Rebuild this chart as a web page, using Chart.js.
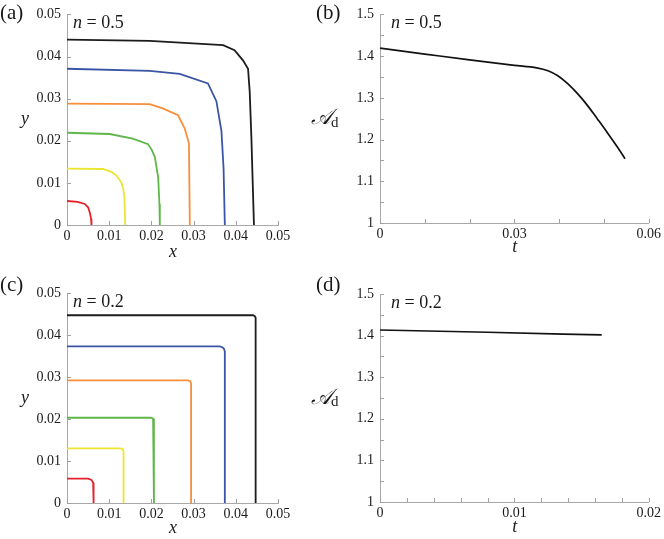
<!DOCTYPE html>
<html>
<head>
<meta charset="utf-8">
<script src="https://cdn.jsdelivr.net/npm/chart.js@4.4.1/dist/chart.umd.min.js"></script>
<style>
  body { margin: 0; background: #fff; }
  .panel { position: absolute; }
</style>
</head>
<body>
<canvas id="pa" class="panel" width="300" height="270" style="left:0;top:0"></canvas>
<canvas id="pb" class="panel" width="364" height="270" style="left:300px;top:0"></canvas>
<canvas id="pc" class="panel" width="300" height="269" style="left:0;top:270px"></canvas>
<canvas id="pd" class="panel" width="364" height="269" style="left:300px;top:270px"></canvas>
<script>
'use strict';

// (a) contours for n = 0.5, [x, y] pairs
var redA    = [[0,0.0057],[0.0025,0.0055],[0.0042,0.0050],[0.0050,0.0042],[0.0054,0.0030],[0.0057,0.0015],[0.0058,0]];
var yellowA = [[0,0.0134],[0.0085,0.0133],[0.0105,0.0126],[0.0117,0.0118],[0.0128,0.0102],[0.0133,0.0088],[0.0136,0.0067],[0.0138,0]];
var greenA  = [[0,0.0219],[0.0101,0.0216],[0.0156,0.0205],[0.0192,0.0192],[0.0201,0.0178],[0.0208,0.0162],[0.0216,0.0114],[0.0219,0.0050],[0.0220,0]];
var orangeA = [[0,0.0288],[0.0196,0.0287],[0.0227,0.0277],[0.0263,0.0261],[0.0279,0.0229],[0.0289,0.0194],[0.0291,0]];
var blueA   = [[0,0.0371],[0.0196,0.0366],[0.0267,0.0359],[0.0334,0.0336],[0.0354,0.0294],[0.0366,0.0223],[0.0371,0.0134],[0.0374,0]];
var blackA  = [[0,0.0440],[0.0196,0.0437],[0.0370,0.0427],[0.0397,0.0415],[0.0417,0.0391],[0.0429,0.0371],[0.0433,0.0316],[0.0437,0.0205],[0.0443,0]];

// (c) contours for n = 0.2
var redC    = [[0,0.0058],[0.0050,0.0058],[0.0058,0.0055],[0.0062,0.0048],[0.0063,0.0040],[0.0063,0]];
var yellowC = [[0,0.0130],[0.0127,0.0130],[0.0132,0.0128],[0.0134,0.0123],[0.0134,0]];
var greenC  = [[0,0.0203],[0.0199,0.0203],[0.0204,0.0201],[0.0206,0.0196],[0.0206,0]];
var orangeC = [[0,0.0292],[0.0287,0.0292],[0.0292,0.0290],[0.0294,0.0285],[0.0294,0]];
var blueC   = [[0,0.0373],[0.0362,0.0373],[0.0368,0.0371],[0.0372,0.0367],[0.0374,0.0361],[0.0374,0]];
var blackC  = [[0,0.0447],[0.0441,0.0447],[0.0445,0.0445],[0.0447,0.0441],[0.0447,0]];

// (b) and (d) A_d against t
var tB = [0, 0.01, 0.02, 0.03, 0.035, 0.0375, 0.0397, 0.0419, 0.0441, 0.0463, 0.0485, 0.0508, 0.053, 0.0547];
var aB = [1.419, 1.405, 1.391, 1.378, 1.372, 1.365, 1.353, 1.334, 1.310, 1.282, 1.250, 1.216, 1.182, 1.154];
var tD = [0, 0.008, 0.0165];
var aD = [1.4135, 1.408, 1.4016];

// tick labels
var xyTicks = [0, 0.01, 0.02, 0.03, 0.04, 0.05];
var xyLabels = ['0', '0.01', '0.02', '0.03', '0.04', '0.05'];
var adTicks = [1, 1.1, 1.2, 1.3, 1.4, 1.5];
var adLabels = ['1', '1.1', '1.2', '1.3', '1.4', '1.5'];
var tTicksB = [0, 0.03, 0.06];
var tLabelsB = ['0', '0.03', '0.06'];
var tTicksD = [0, 0.01, 0.02];
var tLabelsD = ['0', '0.01', '0.02'];

var contourColors = ['#e3222b', '#ece632', '#5fb74a', '#f68e3b', '#3a55a6', '#1c1c1c'];

var SERIF = "'Liberation Serif', 'Times New Roman', Times, serif";

function pairs(arr) {
    return arr.map(function(p) { return { x: p[0], y: p[1] }; });
}
function zip(xs, ys) {
    return xs.map(function(x, i) { return { x: x, y: ys[i] }; });
}
function labelFor(values, labels) {
    return function(v) {
        for (var i = 0; i < values.length; i++) {
            if (Math.abs(values[i] - v) < 1e-9) return labels[i];
        }
        return '';
    };
}

var inwardTicks = {
    id: 'inwardTicks',
    afterDatasetsDraw: function(chart) {
        var ctx = chart.ctx;
        var area = chart.chartArea;
        ctx.save();
        ctx.strokeStyle = '#a0a0a0';
        ctx.lineWidth = 1;
        ['x', 'y'].forEach(function(id) {
            var s = chart.scales[id];
            s.ticks.forEach(function(t) {
                var p = Math.round(s.getPixelForValue(t.value)) + 0.5;
                ctx.beginPath();
                if (id === 'x') {
                    ctx.moveTo(p, area.bottom);
                    ctx.lineTo(p, area.bottom - 4);
                } else {
                    ctx.moveTo(area.left, p);
                    ctx.lineTo(area.left + 4, p);
                }
                ctx.stroke();
            });
        });
        ctx.restore();
    }
};

var panelText = {
    id: 'panelText',
    afterDraw: function(chart, args, o) {
        var ctx = chart.ctx;
        var a = chart.chartArea;
        ctx.save();
        ctx.fillStyle = '#1a1a1a';
        ctx.textBaseline = 'middle';

        // panel tag
        ctx.font = '21px ' + SERIF;
        ctx.textAlign = 'left';
        ctx.fillText(o.tag, o.tagX, o.tagY);

        // n = value
        var nx = a.left + o.nDx;
        var ny = a.top + 9;
        ctx.font = 'italic 18px ' + SERIF;
        ctx.fillText('n', nx, ny);
        nx += ctx.measureText('n').width;
        ctx.font = '18px ' + SERIF;
        ctx.fillText(' = ' + o.n, nx, ny);

        // x axis title
        ctx.font = 'italic 18px ' + SERIF;
        ctx.textAlign = 'center';
        ctx.fillText(o.xTitle, (a.left + a.right) / 2 + 0.5, a.bottom + o.xTitleDy);

        // y axis title
        var my = (a.top + a.bottom) / 2;
        if (o.yTitle === 'A') {
            ctx.font = 'italic 22px ' + SERIF;
            ctx.textAlign = 'left';
            var ax = a.left + o.yTitleDx;
            ctx.fillText('\u{1D49C}', ax, my);
            var w = ctx.measureText('\u{1D49C}').width;
            ctx.font = '15px ' + SERIF;
            ctx.fillText('d', ax + w - 1, my + 4);
        } else {
            ctx.fillText(o.yTitle, a.left + o.yTitleDx, my);
        }
        ctx.restore();
    }
};

function makeChart(id, datasets, sc, txt) {
    var ctx = document.getElementById(id).getContext('2d');
    var tickFont = { family: SERIF, size: 14 };
    return new Chart(ctx, {
        type: 'scatter',
        data: { datasets: datasets },
        options: {
            responsive: false,
            animation: false,
            events: [],
            layout: { padding: { top: sc.padTop, right: sc.padRight, left: 0, bottom: 0 } },
            plugins: {
                legend: { display: false },
                tooltip: { enabled: false },
                panelText: txt
            },
            elements: { point: { radius: 0 } },
            scales: {
                x: {
                    type: 'linear',
                    min: sc.xMin, max: sc.xMax,
                    grid: { display: false, drawTicks: false },
                    border: { display: true, color: '#a8a8a8', width: 1 },
                    ticks: {
                        stepSize: sc.xStep,
                        autoSkip: false,
                        maxRotation: 0,
                        padding: 3,
                        color: '#1a1a1a',
                        font: tickFont,
                        callback: labelFor(sc.xTicks, sc.xLabels)
                    },
                    afterFit: function(s) { s.height = sc.xH; }
                },
                y: {
                    type: 'linear',
                    min: sc.yMin, max: sc.yMax,
                    grid: { display: false, drawTicks: false },
                    border: { display: true, color: '#a8a8a8', width: 1 },
                    ticks: {
                        stepSize: sc.yStep,
                        autoSkip: false,
                        padding: 6,
                        color: '#1a1a1a',
                        font: tickFont,
                        callback: labelFor(sc.yTicks, sc.yLabels)
                    },
                    afterFit: function(s) { s.width = sc.yW; }
                }
            }
        },
        plugins: [inwardTicks, panelText]
    });
}

function contourSets(curves) {
    return curves.map(function(c, i) {
        return {
            data: pairs(c),
            showLine: true,
            borderColor: contourColors[i],
            borderWidth: 1.8,
            tension: 0,
            fill: false
        };
    });
}

function lineSet(xs, ys) {
    return [{
        data: zip(xs, ys),
        showLine: true,
        borderColor: '#111',
        borderWidth: 1.7,
        cubicInterpolationMode: 'monotone',
        fill: false
    }];
}

makeChart('pa', contourSets([redA, yellowA, greenA, orangeA, blueA, blackA]), {
    padTop: 14, padRight: 22, xH: 45, yW: 67,
    xMin: 0, xMax: 0.05, xStep: 0.01, xTicks: xyTicks, xLabels: xyLabels,
    yMin: 0, yMax: 0.05, yStep: 0.01, yTicks: xyTicks, yLabels: xyLabels
}, { tag: '(a)', tagX: 0, tagY: 13, n: '0.5', nDx: 6, xTitle: 'x', xTitleDy: 27, yTitle: 'y', yTitleDx: -42 });

makeChart('pb', lineSet(tB, aB), {
    padTop: 14, padRight: 13, xH: 47, yW: 80,
    xMin: 0, xMax: 0.06, xStep: 0.01, xTicks: tTicksB, xLabels: tLabelsB,
    yMin: 1, yMax: 1.5, yStep: 0.05, yTicks: adTicks, yLabels: adLabels
}, { tag: '(b)', tagX: 16, tagY: 13, n: '0.5', nDx: 11, xTitle: 't', xTitleDy: 24, yTitle: 'A', yTitleDx: -69 });

makeChart('pc', contourSets([redC, yellowC, greenC, orangeC, blueC, blackC]), {
    padTop: 23, padRight: 22, xH: 36, yW: 67,
    xMin: 0, xMax: 0.05, xStep: 0.01, xTicks: xyTicks, xLabels: xyLabels,
    yMin: 0, yMax: 0.05, yStep: 0.01, yTicks: xyTicks, yLabels: xyLabels
}, { tag: '(c)', tagX: 0, tagY: 15, n: '0.2', nDx: 6, xTitle: 'x', xTitleDy: 25, yTitle: 'y', yTitleDx: -42 });

makeChart('pd', lineSet(tD, aD), {
    padTop: 24, padRight: 13, xH: 37, yW: 80,
    xMin: 0, xMax: 0.02, xStep: 0.002, xTicks: tTicksD, xLabels: tLabelsD,
    yMin: 1, yMax: 1.5, yStep: 0.05, yTicks: adTicks, yLabels: adLabels
}, { tag: '(d)', tagX: 16, tagY: 15, n: '0.2', nDx: 11, xTitle: 't', xTitleDy: 25, yTitle: 'A', yTitleDx: -69 });
</script>
</body>
</html>
